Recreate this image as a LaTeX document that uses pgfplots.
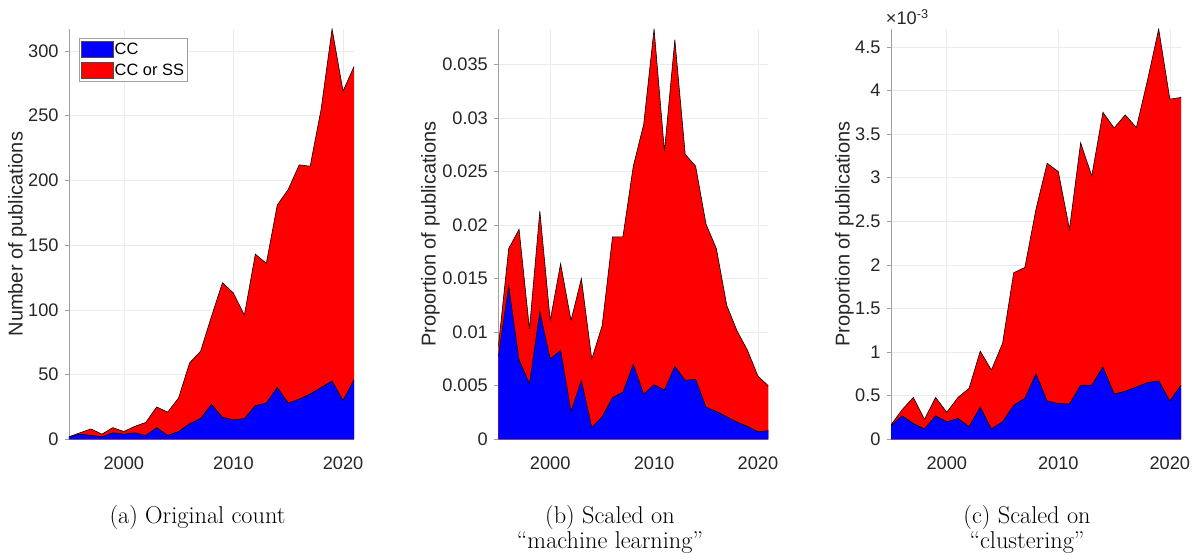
\documentclass[border=0pt]{standalone}
\usepackage{pgfplots}
\pgfplotsset{compat=1.18}
\usepackage{pgfplotstable}
\usepackage{fontspec}
\newfontfamily\arial{Liberation Sans}
\definecolor{tickgray}{HTML}{262626}
\definecolor{axgray}{HTML}{A0A0A0}
\definecolor{gridgray}{HTML}{EBEBEB}

\newcommand\tickfont{\arial\fontsize{18.2}{20}\selectfont}
\newcommand\labfont{\arial\fontsize{20}{22}\selectfont}
\newcommand\legfont{\arial\fontsize{16.4}{18}\selectfont}
\newcommand\capfont{\fontsize{24.3}{25}\selectfont}

% (a) number of publications
\pgfplotstableread{
year cc tot
1995 2 2
1996 4 5
1997 3 8
1998 2 4
1999 5 9
2000 4 6
2001 5 10
2002 3 13
2003 9 25
2004 3 21
2005 6 32
2006 12 59
2007 16 68
2008 27 95
2009 17 121
2010 15 113
2011 16 96
2012 26 143
2013 28 136
2014 40 181
2015 28 193
2016 31 212
2017 35 211
2018 40 255
2019 45 317
2020 30 269
2021 46 288
}\countdata

% (b) scaled on "machine learning"
\pgfplotstableread{
year cc tot
1995 0.0077 0.0086
1996 0.0143 0.0178
1997 0.0074 0.0196
1998 0.0052 0.0103
1999 0.0119 0.0213
2000 0.0075 0.0111
2001 0.0083 0.0164
2002 0.0026 0.0111
2003 0.0055 0.0150
2004 0.0011 0.0075
2005 0.0021 0.0106
2006 0.0039 0.0189
2007 0.0044 0.0189
2008 0.0070 0.0255
2009 0.0042 0.0294
2010 0.0051 0.0383
2011 0.0046 0.0269
2012 0.0068 0.0373
2013 0.0055 0.0266
2014 0.0056 0.0255
2015 0.0030 0.0201
2016 0.0026 0.0178
2017 0.0021 0.0125
2018 0.0016 0.0101
2019 0.0012 0.0083
2020 0.0007 0.0059
2021 0.0008 0.0050
}\mldata

% (c) scaled on "clustering"
\pgfplotstableread{
year cc tot
1995 0.000157 0.000165
1996 0.000270 0.000340
1997 0.000180 0.000480
1998 0.000120 0.000230
1999 0.000270 0.000480
2000 0.000200 0.000310
2001 0.000240 0.000480
2002 0.000145 0.000585
2003 0.000370 0.001010
2004 0.000120 0.000795
2005 0.000200 0.001100
2006 0.000390 0.001910
2007 0.000470 0.001970
2008 0.000750 0.002640
2009 0.000440 0.003165
2010 0.000410 0.003070
2011 0.000405 0.002410
2012 0.000620 0.003400
2013 0.000620 0.003020
2014 0.000830 0.003750
2015 0.000520 0.003570
2016 0.000550 0.003720
2017 0.000600 0.003575
2018 0.000650 0.004120
2019 0.000670 0.004705
2020 0.000440 0.003900
2021 0.000620 0.003920
}\clusdata

\pgfplotsset{
  pubstyle/.style={
    scale only axis,
    height=410.3pt,
    xmin=1995, xmax=2021,
    ymin=0,
    axis lines=left,
    axis line style={-, draw=axgray, line width=0.6pt},
    xtick={2000,2010,2020},
    xtick style={draw=none},
    ytick style={draw=axgray, line width=0.6pt},
    tick align=outside,
    major tick length=4pt,
    grid=major,
    grid style={draw=gridgray, line width=0.6pt},
    /pgf/number format/assume math mode=true,
    tick label style={font=\tickfont, text=tickgray},
    xticklabel style={/pgf/number format/1000 sep={}, anchor=north, inner sep=0pt, yshift=-13pt},
    yticklabel style={anchor=east, inner sep=0pt, xshift=-6.3pt},
  },
  ylab/.style={every axis y label/.style={at={([xshift=#1]axis description cs:0,0.5)},
    anchor=center, rotate=90, inner sep=0pt, font=\labfont, text=tickgray}},
  edge/.style={black, line width=0.6pt, forget plot},
}

\begin{document}
\begin{tikzpicture}
\useasboundingbox (0pt,0pt) rectangle (1193pt,559pt);

\begin{axis}[pubstyle,
  at={(69pt,119.7pt)}, anchor=south west, width=285pt,
  ymax=317, ytick={0,50,...,300},
  ylabel={Number of publications}, ylab=-51.5pt,
  reverse legend,
  legend style={at={(0,1)}, anchor=north west, xshift=9.7pt, yshift=-8.7pt,
    draw=axgray, line width=0.8pt, fill=white, font=\legfont, text=black,
    inner xsep=2pt, inner ysep=3pt, row sep=5pt, column sep=0pt,
    nodes={inner sep=1.2pt}, cells={anchor=west}},
  legend image code/.code={\draw[#1, draw=black!70, line width=0.4pt] (0pt,-8pt) rectangle (32pt,8pt);},
]
\addplot[fill=red, draw=none] table[x=year, y=tot] {\countdata} \closedcycle;
\addlegendentry{CC or SS}
\addplot[edge] table[x=year, y=tot] {\countdata};
\addplot[fill=blue, draw=none] table[x=year, y=cc] {\countdata} \closedcycle;
\addlegendentry{CC}
\addplot[edge] table[x=year, y=cc] {\countdata};
\end{axis}

\begin{axis}[pubstyle,
  at={(498.3pt,119.7pt)}, anchor=south west, width=270pt,
  ymax=0.0383, ytick={0,0.005,0.01,0.015,0.02,0.025,0.03,0.035},
  scaled y ticks=false,
  yticklabel style={/pgf/number format/fixed, /pgf/number format/precision=3},
  ylabel={Proportion of publications}, ylab=-67.8pt,
]
\addplot[fill=red, draw=none] table[x=year, y=tot] {\mldata} \closedcycle;
\addplot[edge] table[x=year, y=tot] {\mldata};
\addplot[fill=blue, draw=none] table[x=year, y=cc] {\mldata} \closedcycle;
\addplot[edge] table[x=year, y=cc] {\mldata};
\end{axis}

\begin{axis}[pubstyle,
  at={(891pt,119.7pt)}, anchor=south west, width=290pt,
  ymax=0.004705, ytick={0,0.0005,0.001,0.0015,0.002,0.0025,0.003,0.0035,0.004,0.0045},
  scaled y ticks=base 10:3,
  yticklabel style={/pgf/number format/fixed, /pgf/number format/precision=2},
  ytick scale label code/.code={×10\textsuperscript{#1}},
  every y tick scale label/.style={at={(axis description cs:0,1)}, anchor=base west,
    xshift=1pt, yshift=4pt, inner sep=0pt, font=\tickfont, text=tickgray},
  ylabel={Proportion of publications}, ylab=-46.5pt,
]
\addplot[fill=red, draw=none] table[x=year, y=tot] {\clusdata} \closedcycle;
\addplot[edge] table[x=year, y=tot] {\clusdata};
\addplot[fill=blue, draw=none] table[x=year, y=cc] {\clusdata} \closedcycle;
\addplot[edge] table[x=year, y=cc] {\clusdata};
\end{axis}

\node[anchor=north, inner sep=0pt, font=\capfont] at (197.5pt,54pt) {(a) Original count};
\node[anchor=north, inner sep=0pt, font=\capfont, align=center] at (610pt,54pt) {(b) Scaled on\\``machine learning''};
\node[anchor=north, inner sep=0pt, font=\capfont, align=center] at (1027pt,54pt) {(c) Scaled on\\``clustering''};
\end{tikzpicture}
\end{document}
